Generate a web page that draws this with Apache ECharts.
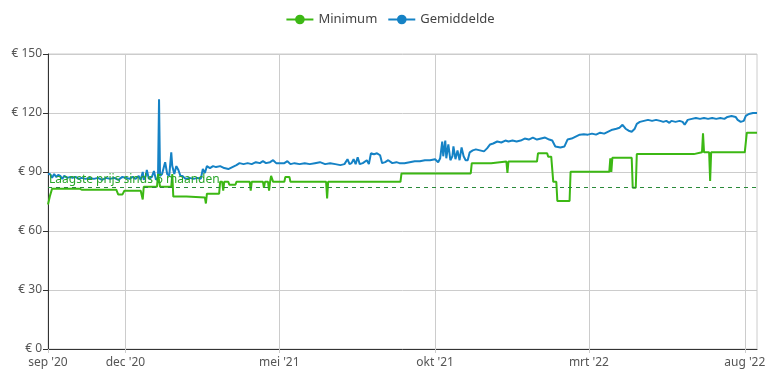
<!DOCTYPE html>
<html><head><meta charset="utf-8">
<script src="https://cdn.jsdelivr.net/npm/echarts@6/dist/echarts.min.js"></script>
<style>html,body{margin:0;padding:0;background:#fff}#c{width:780px;height:372px}</style>
</head><body><div id="c"></div>
<script>
const seriesNames = ['Minimum', 'Gemiddelde'];
const xMin = '2020-09-16';
const xMax = '2022-08-13';
const xTickDates = ['2020-09-16', '2020-12-01', '2021-05-01', '2021-10-01', '2022-03-01', '2022-08-01'];
const monthNames = ['jan','feb','mrt','apr','mei','jun','jul','aug','sep','okt','nov','dec'];
const yTicks = [0, 30, 60, 90, 120, 150];
const lowestLabel = 'Laagste prijs sinds 6 maanden';
const lowestValue = 82.4;

const minDates = ['2020-09-16','2020-09-18','2020-09-20','2020-10-17','2020-10-19','2020-11-22','2020-11-24','2020-11-28','2020-11-30','2020-12-16','2020-12-18','2020-12-19','2021-01-01','2021-01-02','2021-01-04','2021-01-15','2021-01-16','2021-01-17','2021-01-30','2021-01-31','2021-02-17','2021-02-18','2021-02-19','2021-03-03','2021-03-04','2021-03-06','2021-03-07','2021-03-08','2021-03-12','2021-03-13','2021-03-19','2021-03-20','2021-04-02','2021-04-03','2021-04-04','2021-04-15','2021-04-16','2021-04-17','2021-04-20','2021-04-21','2021-04-22','2021-04-23','2021-04-25','2021-05-06','2021-05-07','2021-05-11','2021-05-12','2021-06-16','2021-06-17','2021-06-18','2021-08-28','2021-08-29','2021-11-05','2021-11-06','2021-11-25','2021-11-26','2021-12-10','2021-12-11','2021-12-12','2022-01-09','2022-01-10','2022-01-19','2022-01-20','2022-01-23','2022-01-25','2022-01-28','2022-01-29','2022-02-10','2022-02-11','2022-03-21','2022-03-22','2022-03-23','2022-03-24','2022-04-12','2022-04-13','2022-04-16','2022-04-17','2022-06-12','2022-06-13','2022-06-20','2022-06-21','2022-06-22','2022-06-27','2022-06-28','2022-06-29','2022-08-01','2022-08-03','2022-08-13'];
const minValues = [73.5,78,81.5,81.5,81,81,78.5,78.5,80.5,80.5,76,82.5,82.5,89,82.5,82.5,89,77.5,77.5,77,77,74,79,79,85,85,80.5,85,85,83.5,83.5,85,85,80.5,85,85,82,85,85,80.5,85,88,85,85,87.5,87.5,85,85,76.5,85,85,89.3,89.3,94.5,94.5,95.3,95.3,89.5,95.3,95.3,99.5,99.5,97.8,97.8,85,85,75.3,75.3,90.1,90.1,97,90.1,97.2,97.2,82,82,99.1,99.1,100,100,109.7,100,100,85.4,100,100,110,110];

const avgDates = ['2020-09-16','2020-09-17','2020-09-18','2020-09-20','2020-09-22','2020-09-24','2020-09-26','2020-09-28','2020-09-30','2020-10-02','2020-10-05','2020-10-08','2020-10-10','2020-10-13','2020-10-16','2020-10-19','2020-10-23','2020-10-27','2020-10-31','2020-11-04','2020-11-08','2020-11-12','2020-11-16','2020-11-20','2020-11-24','2020-11-28','2020-12-02','2020-12-05','2020-12-08','2020-12-11','2020-12-14','2020-12-16','2020-12-18','2020-12-19','2020-12-21','2020-12-22','2020-12-24','2020-12-27','2020-12-29','2020-12-31','2021-01-02','2021-01-03','2021-01-04','2021-01-06','2021-01-08','2021-01-09','2021-01-11','2021-01-13','2021-01-15','2021-01-16','2021-01-18','2021-01-20','2021-01-22','2021-01-24','2021-01-26','2021-01-29','2021-02-02','2021-02-06','2021-02-10','2021-02-13','2021-02-15','2021-02-17','2021-02-19','2021-02-22','2021-02-25','2021-02-28','2021-03-04','2021-03-08','2021-03-12','2021-03-16','2021-03-20','2021-03-23','2021-03-27','2021-03-31','2021-04-04','2021-04-08','2021-04-12','2021-04-15','2021-04-18','2021-04-22','2021-04-25','2021-04-28','2021-05-02','2021-05-06','2021-05-09','2021-05-12','2021-05-16','2021-05-21','2021-05-26','2021-05-31','2021-06-05','2021-06-10','2021-06-15','2021-06-20','2021-06-25','2021-06-30','2021-07-04','2021-07-07','2021-07-09','2021-07-11','2021-07-13','2021-07-15','2021-07-17','2021-07-19','2021-07-22','2021-07-26','2021-07-28','2021-07-30','2021-08-02','2021-08-05','2021-08-08','2021-08-10','2021-08-13','2021-08-16','2021-08-20','2021-08-24','2021-08-27','2021-09-01','2021-09-06','2021-09-11','2021-09-16','2021-09-21','2021-09-26','2021-10-01','2021-10-04','2021-10-06','2021-10-08','2021-10-09','2021-10-11','2021-10-12','2021-10-14','2021-10-16','2021-10-18','2021-10-19','2021-10-21','2021-10-23','2021-10-25','2021-10-27','2021-10-29','2021-10-31','2021-11-02','2021-11-04','2021-11-07','2021-11-10','2021-11-14','2021-11-18','2021-11-21','2021-11-24','2021-11-27','2021-12-01','2021-12-05','2021-12-09','2021-12-12','2021-12-16','2021-12-20','2021-12-24','2021-12-28','2022-01-01','2022-01-05','2022-01-09','2022-01-13','2022-01-17','2022-01-21','2022-01-24','2022-01-27','2022-02-01','2022-02-05','2022-02-08','2022-02-12','2022-02-16','2022-02-20','2022-02-24','2022-02-28','2022-03-04','2022-03-08','2022-03-12','2022-03-16','2022-03-20','2022-03-24','2022-03-28','2022-03-31','2022-04-03','2022-04-06','2022-04-09','2022-04-12','2022-04-15','2022-04-17','2022-04-20','2022-04-24','2022-04-28','2022-05-02','2022-05-06','2022-05-10','2022-05-13','2022-05-16','2022-05-19','2022-05-21','2022-05-25','2022-05-29','2022-06-01','2022-06-03','2022-06-06','2022-06-10','2022-06-14','2022-06-18','2022-06-22','2022-06-26','2022-06-30','2022-07-04','2022-07-08','2022-07-12','2022-07-15','2022-07-19','2022-07-23','2022-07-25','2022-07-28','2022-07-31','2022-08-02','2022-08-05','2022-08-09','2022-08-13'];
const avgValues = [89,88,89,87,89,87.5,88.5,88,86.5,88,87,87.5,87,87.5,86.5,87,86.5,87,86.5,87,86,87,86.5,87,86,87.5,87,86.5,87.5,86.5,88,86,90,86,88,91,86.5,87.5,90.5,86,87,127,88,89,93,95,89,88,100,93,89,93,91,88,88,86.5,87,86.5,87,86.5,91.5,89.5,93,92,93,92.5,93,92,91.5,92.5,93.5,94.5,94,94.5,94,95,94.5,95.5,94.5,95,96,94.5,94.5,94.5,95.5,94,94.5,94,94.5,94,94.5,95,94,94.5,94,93.5,94,96.5,94,94.5,96.5,94,97.5,94,94.5,96,94,99.5,99,99.5,98.5,94.5,95,96,94.5,95,94.5,94.5,95,95.5,95.5,96,96,96.5,95,97,105.5,98,106,97,104,96,98,103,96.5,101,96,102.5,98,96,96,100,101,101.5,101,100.5,102,104,104.5,105.5,105,106,105.5,106,105.5,106,107,106.5,107.5,106.5,107,107.5,106.5,106,103,102.5,103,106.5,107,108,109,109.2,109,109.5,109,110,109.5,110.5,111.5,112,112.5,114,112,111,110.5,112,114.5,115.5,116,116.5,116,116.5,116,115.5,116,115,116,115.5,116,115.5,114,116.5,117,117.5,117,117.5,117,117.5,117,117.5,117,118,118.5,118,116.5,115.5,116,118.5,119.5,120,120];

const GREEN = '#3cb814';
const BLUE = '#1582c5';
const FONT = 'Noto Sans';

function ts(s) { const p = s.split('-').map(Number); return new Date(p[0], p[1] - 1, p[2]).getTime(); }
const minData = minDates.map((d, i) => [ts(d), minValues[i]]);
const avgData = avgDates.map((d, i) => [ts(d), avgValues[i]]);
const tickTs = xTickDates.map(ts);

const chart = echarts.init(document.getElementById('c'), null, { renderer: 'canvas' });
chart.setOption({
  animation: false,
  backgroundColor: '#fff',
  textStyle: { fontFamily: FONT },
  legend: {
    top: 8, left: 'center', itemWidth: 27, itemHeight: 12, itemGap: 10,
    textStyle: { color: '#444', fontSize: 13, fontFamily: FONT },
    data: seriesNames
  },
  grid: { left: 48, right: 23, top: 54, bottom: 23, show: true, borderColor: '#ccc', borderWidth: 1 },
  xAxis: {
    type: 'value',
    min: ts(xMin), max: ts(xMax),
    axisLine: { lineStyle: { color: '#333', width: 1 } },
    axisTick: { show: true, customValues: tickTs, length: 4, lineStyle: { color: '#ccc' } },
    splitLine: { show: true, lineStyle: { color: '#ccc', width: 1 } },
    axisLabel: {
      customValues: tickTs, color: '#555', fontSize: 12, fontFamily: FONT, margin: 8,
      formatter: function (v) { const d = new Date(v); return monthNames[d.getMonth()] + " '" + String(d.getFullYear()).slice(2); }
    }
  },
  yAxis: {
    type: 'value', min: yTicks[0], max: yTicks[yTicks.length - 1], interval: 30,
    axisLine: { show: true, lineStyle: { color: '#333' } },
    axisTick: { show: true, length: 5, lineStyle: { color: '#333' } },
    splitLine: { lineStyle: { color: '#ccc' } },
    axisLabel: { color: '#555', fontSize: 12, fontFamily: FONT, margin: 6, formatter: '€ {value}' }
  },
  series: [
    {
      name: seriesNames[0], type: 'line', data: minData, color: GREEN,
      symbol: 'circle', symbolSize: 10, showSymbol: false,
      lineStyle: { width: 2, color: GREEN },
      z: 3,
      markLine: {
        silent: true, symbol: 'none',
        lineStyle: { type: [4, 4], color: '#2a8a3a', width: 1 },
        label: { show: true, position: 'insideStartTop', formatter: lowestLabel, color: '#2aa52a', fontSize: 12, fontFamily: FONT, distance: [1, 1] },
        data: [{ yAxis: lowestValue }]
      }
    },
    {
      name: seriesNames[1], type: 'line', data: avgData, color: BLUE,
      symbol: 'circle', symbolSize: 10, showSymbol: false,
      lineStyle: { width: 2, color: BLUE },
      z: 2
    }
  ]
});
</script></body></html>
